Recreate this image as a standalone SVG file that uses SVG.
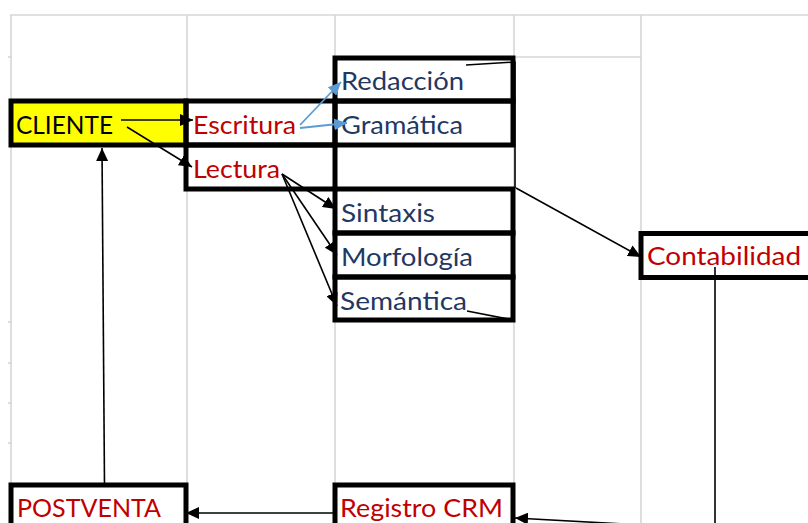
<svg xmlns="http://www.w3.org/2000/svg" width="808" height="523" viewBox="0 0 808 523">
  <style>
    .grid { stroke: #d6d6d6; stroke-width: 1.6; fill: none; }
    .box { fill: none; stroke: #000; stroke-width: 5; }
    .t { font-family: Lato, "Liberation Sans", sans-serif; font-size: 25px; }
    .red { fill: #C00000; }
    .navy { fill: #1F3864; }
    .blk { fill: #000; }
    .c { stroke: #000; stroke-width: 1.6; fill: none; }
    .cb { stroke: #5B9BD5; stroke-width: 1.8; fill: none; }
  </style>
  <defs>
    <marker id="ah" markerUnits="userSpaceOnUse" markerWidth="14" markerHeight="12" refX="13" refY="6" orient="auto">
      <path d="M0,0 L13,6 L0,12 z" fill="#000"/>
    </marker>
    <marker id="ahb" markerUnits="userSpaceOnUse" markerWidth="14" markerHeight="12" refX="13" refY="6" orient="auto">
      <path d="M0,0 L13,6 L0,12 z" fill="#5B9BD5"/>
    </marker>
  </defs>
  <rect x="0" y="0" width="808" height="523" fill="#fff"/>
  <g id="grid">
    <line class="grid" x1="10" y1="15" x2="808" y2="15"/>
    <line class="grid" x1="11" y1="15" x2="11" y2="523"/>
    <line class="grid" x1="187" y1="15" x2="187" y2="523"/>
    <line class="grid" x1="335" y1="15" x2="335" y2="523"/>
    <line class="grid" x1="514" y1="15" x2="514" y2="523"/>
    <line class="grid" x1="641" y1="15" x2="641" y2="523"/>
    <line class="grid" x1="516" y1="57" x2="641" y2="57"/>
    <line class="grid" x1="8" y1="57" x2="12" y2="57"/>
    <line class="grid" x1="8" y1="322" x2="12" y2="322"/>
    <line class="grid" x1="8" y1="363" x2="12" y2="363"/>
    <line class="grid" x1="8" y1="403" x2="12" y2="403"/>
    <line class="grid" x1="8" y1="443" x2="12" y2="443"/>
  </g>
  <g id="cliente">
    <rect x="11" y="101" width="175" height="44" fill="#FFFF00" stroke="#000" stroke-width="5"/>
    <text class="t blk" x="16" y="134" textLength="97" lengthAdjust="spacingAndGlyphs">CLIENTE</text>
  </g>
  <g id="escritura">
    <rect class="box" x="186" y="101" width="149" height="44"/>
    <text class="t red" x="193" y="133.5" textLength="103" lengthAdjust="spacingAndGlyphs">Escritura</text>
  </g>
  <g id="lectura">
    <rect class="box" x="186" y="145" width="149" height="44"/>
    <text class="t red" x="193" y="177.5" textLength="87" lengthAdjust="spacingAndGlyphs">Lectura</text>
  </g>
  <g id="redaccion">
    <rect class="box" x="335" y="58" width="178" height="43"/>
    <text class="t navy" x="341" y="90" textLength="123" lengthAdjust="spacingAndGlyphs">Redacción</text>
  </g>
  <g id="gramatica">
    <rect class="box" x="335" y="101" width="178" height="44"/>
    <text class="t navy" x="341" y="134" textLength="122" lengthAdjust="spacingAndGlyphs">Gramática</text>
  </g>
  <g id="sintaxis">
    <rect class="box" x="335" y="189" width="178" height="44"/>
    <text class="t navy" x="341" y="221.5" textLength="94" lengthAdjust="spacingAndGlyphs">Sintaxis</text>
  </g>
  <g id="morfologia">
    <rect class="box" x="335" y="233" width="178" height="44"/>
    <text class="t navy" x="341" y="266" textLength="132" lengthAdjust="spacingAndGlyphs">Morfología</text>
  </g>
  <g id="semantica">
    <rect class="box" x="335" y="277" width="178" height="43"/>
    <text class="t navy" x="340" y="309.5" textLength="127" lengthAdjust="spacingAndGlyphs">Semántica</text>
  </g>
  <g id="contabilidad">
    <rect class="box" x="641" y="233.5" width="200" height="44"/>
    <text class="t red" x="647" y="265" textLength="154" lengthAdjust="spacingAndGlyphs">Contabilidad</text>
  </g>
  <g id="postventa">
    <rect class="box" x="11" y="485" width="175" height="60"/>
    <text class="t red" x="17" y="516.5" textLength="144" lengthAdjust="spacingAndGlyphs">POSTVENTA</text>
  </g>
  <g id="registro">
    <rect class="box" x="335" y="485" width="178" height="60"/>
    <text class="t red" x="340" y="516.5" textLength="163" lengthAdjust="spacingAndGlyphs">Registro CRM</text>
  </g>
  <g id="connectors">
    <line class="c" x1="121" y1="120" x2="193" y2="120" marker-end="url(#ah)"/>
    <line class="c" x1="127" y1="127" x2="192" y2="167" marker-end="url(#ah)"/>
    <line class="cb" x1="300" y1="125" x2="341" y2="82" marker-end="url(#ahb)"/>
    <line class="cb" x1="300" y1="128" x2="347" y2="123" marker-end="url(#ahb)"/>
    <line class="c" x1="282" y1="174" x2="336" y2="209" marker-end="url(#ah)"/>
    <line class="c" x1="282" y1="174" x2="337" y2="255" marker-end="url(#ah)"/>
    <line class="c" x1="282" y1="174" x2="337" y2="306" marker-end="url(#ah)"/>
    <polyline class="c" points="466,65 515,62 515,188"/>
    <polyline class="c" points="467,311 513,320 513,188"/>
    <line class="c" x1="516" y1="188" x2="641" y2="257" marker-end="url(#ah)"/>
    <path class="c" d="M715,267 L715,529 L515,518" marker-end="url(#ah)"/>
    <line class="c" x1="333" y1="513" x2="186" y2="513" marker-end="url(#ah)"/>
    <line class="c" x1="104.5" y1="485" x2="102" y2="148" marker-end="url(#ah)"/>
  </g>
</svg>
